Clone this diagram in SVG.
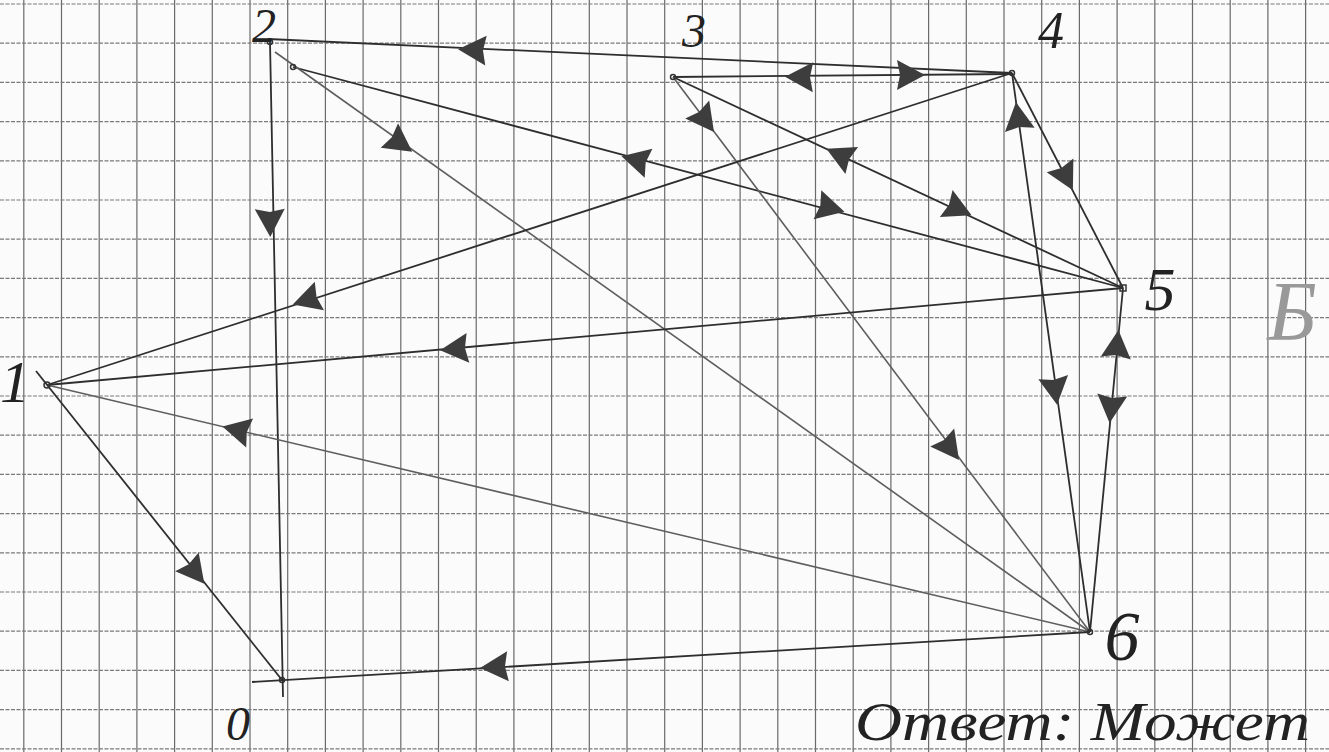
<svg xmlns="http://www.w3.org/2000/svg" width="1329" height="752" viewBox="0 0 1329 752">
<style>
.gv{stroke:#6a6a6a;stroke-width:1.2;fill:none}
.gh{stroke:#7a7a7a;stroke-width:1.2;stroke-dasharray:4 1.5;fill:none}
.e{stroke:#2e2e2e;stroke-width:1.8;fill:none}
.el{stroke:#5e5e5e;stroke-width:1.6;fill:none}
.pt{stroke:#333;stroke-width:1.5;fill:none}
.lb{font-family:"Liberation Serif","DejaVu Serif",serif;font-style:italic;fill:#222;text-anchor:middle}
</style>
<defs>
<path id="ah" d="M15,0 L-13,-15 L-10,0 L-13,15 Z" fill="#3d3d3d"/>
</defs>
<rect width="1329" height="752" fill="#fbfbfb"/>
<g id="grid">
<path class="gv" d="M23.8,0V752M61.5,0V752M99.2,0V752M136.9,0V752M174.6,0V752M212.3,0V752M250,0V752M287.7,0V752M325.4,0V752M363.1,0V752M400.8,0V752M438.5,0V752M476.2,0V752M513.9,0V752M551.6,0V752M589.3,0V752M627,0V752M664.7,0V752M702.4,0V752M740.1,0V752M777.8,0V752M815.5,0V752M853.2,0V752M890.9,0V752M928.6,0V752M966.3,0V752M1004,0V752M1041.7,0V752M1079.4,0V752M1117.1,0V752M1154.8,0V752M1192.5,0V752M1230.2,0V752M1267.9,0V752M1305.6,0V752"/>
<path class="gh" d="M0,4H1329M0,43.2H1329M0,82.4H1329M0,121.6H1329M0,160.8H1329M0,200H1329M0,239.2H1329M0,278.4H1329M0,317.6H1329M0,356.8H1329M0,396H1329M0,435.2H1329M0,474.4H1329M0,513.6H1329M0,552.8H1329M0,592H1329M0,631.2H1329M0,670.4H1329M0,709.6H1329M0,748.8H1329"/>
</g>
<g id="connectors">
<path class="e" d="M270,42 L283,697"/>
<path class="e" d="M1012,73 L268,39"/>
<path class="e" d="M673,77 L1012,74"/>
<path class="e" d="M293,67 L1123,288"/>
<path class="el" d="M275,52 L1090,632"/>
<path class="e" d="M673,77 L1123,288"/>
<path class="el" d="M673,77 L1090,632"/>
<path class="e" d="M1012,73 L1090,632"/>
<path class="e" d="M1012,73 L1123,288"/>
<path class="e" d="M1012,73 L47,385"/>
<path class="e" d="M1123,288 L47,385"/>
<path class="el" d="M1090,632 L47,385"/>
<path class="e" d="M36,371 L282,680"/>
<path class="e" d="M1090,632 L252,682"/>
<path class="e" d="M1123,288 L1090,632"/>
<use href="#ah" transform="translate(270,222) rotate(88.9)"/>
<use href="#ah" transform="translate(473,50) rotate(182.7)"/>
<use href="#ah" transform="translate(800,77) rotate(180.7)"/>
<use href="#ah" transform="translate(910,75) rotate(0)"/>
<use href="#ah" transform="translate(636,160) rotate(194.9)"/>
<use href="#ah" transform="translate(830,208) rotate(14.9)"/>
<use href="#ah" transform="translate(400,143) rotate(35.4)"/>
<use href="#ah" transform="translate(840,155) rotate(205.1)"/>
<use href="#ah" transform="translate(958,209) rotate(25.1)"/>
<use href="#ah" transform="translate(705,120) rotate(53.1)"/>
<use href="#ah" transform="translate(950,448) rotate(53.1)"/>
<use href="#ah" transform="translate(1018,117) rotate(262.1)"/>
<use href="#ah" transform="translate(1055,390) rotate(82.1)"/>
<use href="#ah" transform="translate(1066,177) rotate(62.7)"/>
<use href="#ah" transform="translate(307,300) rotate(162.1)"/>
<use href="#ah" transform="translate(455,349) rotate(174.8)"/>
<use href="#ah" transform="translate(237,430) rotate(193.3)"/>
<use href="#ah" transform="translate(195,572) rotate(51.5)"/>
<use href="#ah" transform="translate(495,667) rotate(176.6)"/>
<use href="#ah" transform="translate(1117,345) rotate(275.5)"/>
<use href="#ah" transform="translate(1111,408) rotate(95.5)"/>
</g>
<g id="node0"><circle class="pt" cx="282" cy="680" r="2.5"/><text class="lb" x="238" y="740" font-size="48">0</text></g>
<g id="node1"><circle class="pt" cx="47" cy="385" r="3"/><text class="lb" x="15" y="402" font-size="60">1</text></g>
<g id="node2"><circle class="pt" cx="270" cy="42" r="2.5"/><circle class="pt" cx="293" cy="67" r="2.5"/><text class="lb" x="264" y="42" font-size="48">2</text></g>
<g id="node3"><circle class="pt" cx="673" cy="77" r="2.5"/><text class="lb" x="694" y="47" font-size="48">3</text></g>
<g id="node4"><circle class="pt" cx="1012" cy="73" r="2.5"/><text class="lb" x="1051" y="48" font-size="52">4</text></g>
<g id="node5"><rect class="pt" x="1120" y="285" width="6" height="6"/><text class="lb" x="1160" y="310" font-size="62">5</text></g>
<g id="node6"><circle class="pt" cx="1090" cy="632" r="2.5"/><text class="lb" x="1122" y="660" font-size="70">6</text></g>
<g id="notes">
<text class="lb" x="1292" y="340" font-size="84" style="fill:#999">Б</text>
<text class="lb" x="855" y="740" font-size="54" style="text-anchor:start" textLength="455" lengthAdjust="spacingAndGlyphs">Ответ: Может</text>
</g>
</svg>
